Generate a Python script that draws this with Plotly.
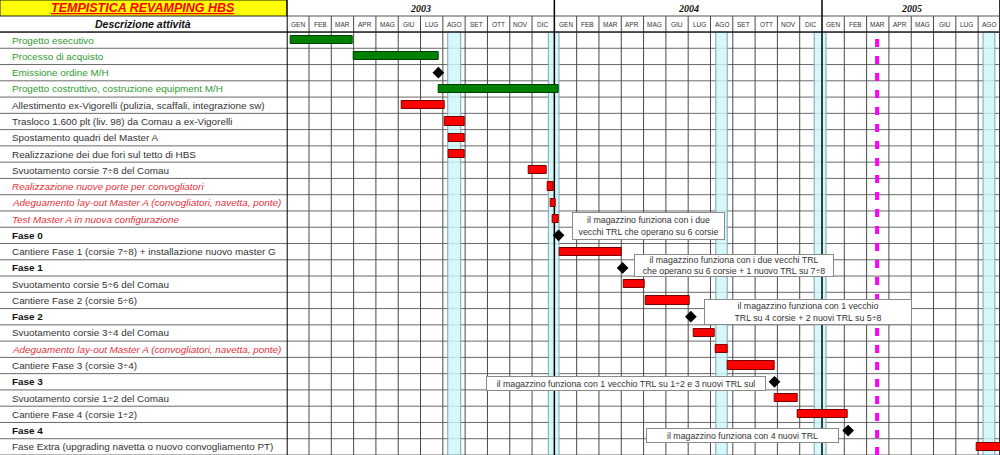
import plotly.graph_objects as go

# ---------------- data ----------------
activities = [
    "Progetto esecutivo",
    "Processo di acquisto",
    "Emissione ordine M/H",
    "Progetto costruttivo, costruzione equipment M/H",
    "Allestimento ex-Vigorelli (pulizia, scaffali, integrazione sw)",
    "Trasloco 1.600 plt (liv. 98) da Comau a ex-Vigorelli",
    "Spostamento quadri del Master A",
    "Realizzazione dei due fori sul tetto di HBS",
    "Svuotamento corsie 7÷8 del Comau",
    "Realizzazione nuove porte per convogliatori",
    "Adeguamento lay-out Master A (convogliatori, navetta, ponte)",
    "Test Master A in nuova configurazione",
    "Fase 0",
    "Cantiere Fase 1 (corsie 7÷8) + installazione nuovo master G",
    "Fase 1",
    "Svuotamento corsie 5÷6 del Comau",
    "Cantiere Fase 2 (corsie 5÷6)",
    "Fase 2",
    "Svuotamento corsie 3÷4 del Comau",
    "Adeguamento lay-out Master A (convogliatori, navetta, ponte)",
    "Cantiere Fase 3 (corsie 3÷4)",
    "Fase 3",
    "Svuotamento corsie 1÷2 del Comau",
    "Cantiere Fase 4 (corsie 1÷2)",
    "Fase 4",
    "Fase Extra (upgrading navetta o nuovo convogliamento PT)",
]
# group of each activity
groups = ["design", "design", "design", "design",
          "work", "work", "work", "work", "work",
          "layout", "layout", "layout",
          "phase", "work", "phase", "work", "work", "phase", "work",
          "layout", "work", "phase", "work", "work", "phase", "work"]
# months since Jan 2003 (0 = start of GEN 2003)
starts = [0.19, 3.02, 6.80, 6.81, 5.15, 7.10, 7.26, 7.26, 10.83, 11.68, 11.82, 11.92,
          12.19, 12.25, 15.06, 15.09, 16.10, 18.12, 18.24, 19.23, 19.78, 21.87,
          21.90, 22.92, 25.17, 30.95]
ends = [2.98, 6.81, None, 12.20, 7.07, 7.96, 7.96, 7.96, 11.65, 11.98, 12.06, 12.20,
        None, 15.04, None, 16.03, 18.08, None, 19.20, 19.78, 21.89, None,
        22.90, 25.16, None, 32.00]

month_names = ["GEN", "FEB", "MAR", "APR", "MAG", "GIU", "LUG", "AGO", "SET", "OTT", "NOV", "DIC"]
years = ["2003", "2004", "2005"]
n_months = 32

holiday_start = [7.22, 11.73, 19.24, 23.65, 31.22]
holiday_end = [7.80, 12.21, 19.75, 24.18, 31.75]
deadline = 26.47

notes = [
    "il magazzino funziona con i due<br>vecchi TRL che operano su 6 corsie",
    "il magazzino funziona con i due vecchi TRL<br>che operano su 6 corsie + 1 nuovo TRL su 7÷8",
    "il magazzino funziona con 1 vecchio<br>TRL su 4 corsie + 2 nuovi TRL su 5÷8",
    "il magazzino funziona con 1 vecchio TRL su 1÷2 e 3 nuovi TRL sul",
    "il magazzino funziona con 4 nuovi TRL",
]
note_x = [16.22, 20.06, 23.37, 15.19, 20.44]
note_y = [11.44, 13.83, 16.68, 21.10, 24.29]

title = "TEMPISTICA REVAMPING HBS"
col_header = "Descrizione attività"

# ---------------- figure ----------------
W, H = 1000, 455
HDR1, HDR2 = 16, 32  # header pixel rows
def py(p):
    return (H - p) / H

FONT = "Liberation Sans, Arial, sans-serif"
nrows = len(activities)

fig = go.Figure()

bar_rows = [i for i in range(nrows) if ends[i] is not None]
ms_rows = [i for i in range(nrows) if ends[i] is None]

for grp, fill, edge in [("design", "#008000", "#003d00"), (None, "#ff0000", "#7a0000")]:
    rows = [i for i in bar_rows if (groups[i] == "design") == (grp == "design")]
    fig.add_trace(go.Bar(
        orientation="h",
        y=rows,
        base=[starts[i] for i in rows],
        x=[ends[i] - starts[i] for i in rows],
        width=0.5,
        marker=dict(color=fill, line=dict(color=edge, width=1)),
        hoverinfo="skip", showlegend=False,
    ))

fig.add_trace(go.Scatter(
    x=[starts[i] for i in ms_rows], y=ms_rows, mode="markers",
    marker=dict(symbol="diamond", size=9, color="black"),
    hoverinfo="skip", showlegend=False,
))

shapes = []
# title cell
shapes.append(dict(type="rect", xref="paper", yref="paper", x0=0, x1=0.2867, y0=py(HDR1), y1=1,
                   fillcolor="#ffff00", line=dict(color="#222", width=1), layer="below"))
# horizontal row lines
for r in range(nrows + 1):
    shapes.append(dict(type="line", xref="paper", yref="y", x0=0, x1=1, y0=r - 0.5, y1=r - 0.5,
                       line=dict(color="#6a6a6a", width=1), layer="below"))
# holiday bands
for a, b in zip(holiday_start, holiday_end):
    shapes.append(dict(type="rect", xref="x", yref="paper", x0=a, x1=b, y0=0, y1=py(HDR2),
                       fillcolor="rgba(205,246,250,0.82)", line=dict(color="#7aa6ad", width=1),
                       layer="below"))
# vertical month lines
for m in range(1, n_months):
    if m % 12 == 0:
        continue
    shapes.append(dict(type="line", xref="x", yref="paper", x0=m, x1=m, y0=0, y1=py(HDR1),
                       line=dict(color="#4a4a4a", width=1), layer="below"))
# header lines
shapes.append(dict(type="line", xref="paper", yref="paper", x0=0.2867, x1=1, y0=py(HDR1), y1=py(HDR1),
                   line=dict(color="#555", width=1), layer="below"))
shapes.append(dict(type="line", xref="paper", yref="paper", x0=0, x1=1, y0=py(HDR2), y1=py(HDR2),
                   line=dict(color="#222", width=1.5), layer="below"))
# year lines and separator
for m in [0, 12, 24]:
    shapes.append(dict(type="line", xref="x", yref="paper", x0=m, x1=m, y0=0, y1=1,
                       line=dict(color="black", width=2 if m == 0 else 1.5), layer="below"))
shapes.append(dict(type="line", xref="paper", yref="paper", x0=0.9995, x1=0.9995, y0=0, y1=1,
                   line=dict(color="#333", width=1), layer="below"))
# deadline
shapes.append(dict(type="line", xref="x", yref="paper", x0=deadline, x1=deadline, y0=0, y1=py(HDR2),
                   line=dict(color="#ff00ff", width=4, dash="8px,9px"), layer="above"))

ann = []
ann.append(dict(text="<b><i><u>" + title + "</u></i></b>", xref="paper", yref="paper",
                x=0.143, y=py(8), xanchor="center", yanchor="middle", showarrow=False,
                font=dict(family=FONT, size=12.5, color="#ff0000")))
ann.append(dict(text="<b><i>" + col_header + "</i></b>", xref="paper", yref="paper",
                x=0.143, y=py(24), xanchor="center", yanchor="middle", showarrow=False,
                font=dict(family=FONT, size=10.5, color="#111")))
for k, yr in enumerate(years):
    span_end = min(12 * (k + 1), n_months)
    ann.append(dict(text="<b><i>" + yr + "</i></b>", xref="x", yref="paper",
                    x=(12 * k + span_end) / 2, y=py(8), xanchor="center", yanchor="middle",
                    showarrow=False,
                    font=dict(family="Liberation Serif, Times New Roman, serif", size=10, color="#111")))
for m in range(n_months):
    ann.append(dict(text=month_names[m % 12], xref="x", yref="paper", x=m + 0.5, y=py(24),
                    xanchor="center", yanchor="middle", showarrow=False,
                    font=dict(family=FONT, size=6.5, color="#333")))

style = {
    "design": ("#2f9a2f", "{}"),
    "work": ("#333333", "{}"),
    "layout": ("#e8303a", "<i>{}</i>"),
    "phase": ("#111111", "<b>{}</b>"),
}
for i, name in enumerate(activities):
    col, fmt = style[groups[i]]
    ann.append(dict(text=fmt.format(name), xref="paper", yref="y", x=0.010, y=i,
                    xanchor="left", yanchor="middle", showarrow=False,
                    font=dict(family=FONT, size=9.9, color=col)))

box_w = [149, 196, 204, 276, 189]
box_h = [24, 19, 22, 11, 11]
for t, x, y, w, h in zip(notes, note_x, note_y, box_w, box_h):
    ann.append(dict(text=t, xref="x", yref="y", x=x, y=y, showarrow=False,
                    xanchor="center", yanchor="middle",
                    width=w, height=h, align="center", valign="middle",
                    bgcolor="white", bordercolor="#8a8a8a", borderwidth=1, borderpad=1,
                    font=dict(family=FONT, size=8.8, color="#333")))

fig.update_layout(
    width=W, height=H, margin=dict(l=0, r=0, t=0, b=0),
    paper_bgcolor="white", plot_bgcolor="white",
    barmode="overlay", bargap=0,
    shapes=shapes, annotations=ann,
    xaxis=dict(domain=[0.2867, 1.0], range=[0, 31.98], showgrid=False, zeroline=False,
               showticklabels=False, ticks="", fixedrange=True),
    yaxis=dict(domain=[0, py(HDR2)], range=[nrows - 0.5, -0.5], showgrid=False, zeroline=False,
               showticklabels=False, ticks="", fixedrange=True),
)

fig.write_html("out.html", config={"displayModeBar": False},
               post_script="document.body.style.margin='0';document.body.style.overflow='hidden';")
